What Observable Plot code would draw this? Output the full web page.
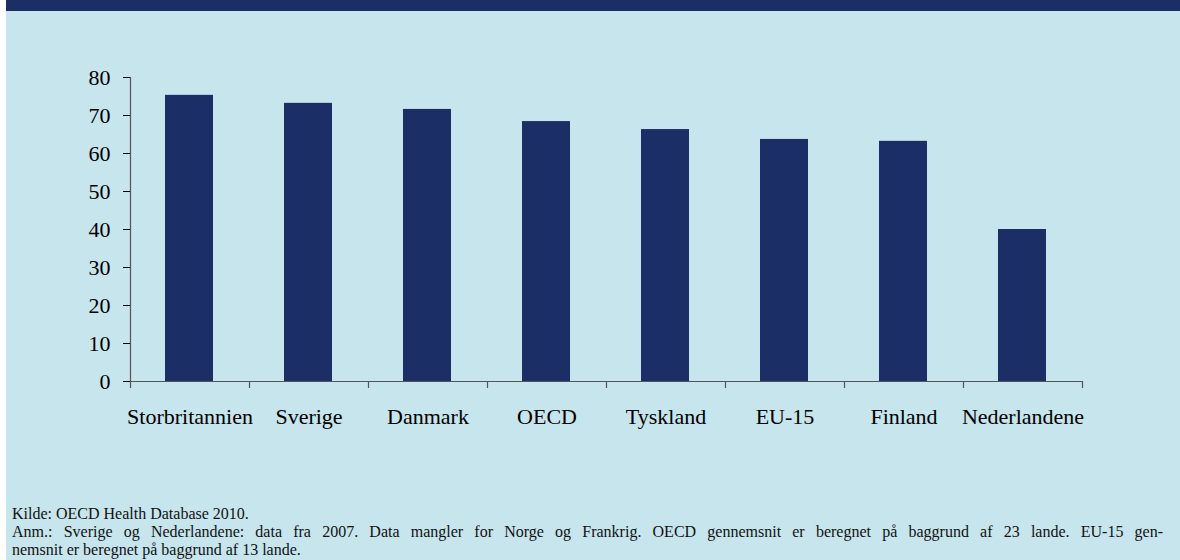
<!DOCTYPE html>
<html>
<head>
<meta charset="utf-8">
<script src="https://cdn.jsdelivr.net/npm/d3@7"></script>
<script src="https://cdn.jsdelivr.net/npm/@observablehq/plot@0.6"></script>
<style>
  html, body { margin: 0; padding: 0; background: #ffffff; }
  #panel { position: absolute; left: 6px; top: 0; width: 1174px; height: 560px; background: #c7e5ed; overflow: hidden;
           font-family: "Liberation Serif", "Times New Roman", serif; }
  #band { position: absolute; left: 0; top: 0; width: 100%; height: 11px; background: #1b2f66; }
  #chart { position: absolute; left: -6px; top: 0; }
  #notes { position: absolute; left: 6px; top: 505px; width: 1151px; font-size: 16px; line-height: 18px; color: #111; }
  #notes .j { text-align: justify; text-align-last: justify; white-space: nowrap; }
</style>
</head>
<body>
<div id="panel">
  <div id="band"></div>
  <div id="chart"></div>
  <div id="notes">
    <div>Kilde: OECD Health Database 2010.</div>
    <div class="j">Anm.: Sverige og Nederlandene: data fra 2007. Data mangler for Norge og Frankrig. OECD gennemsnit er beregnet på baggrund af 23 lande. EU-15 gen-</div>
    <div>nemsnit er beregnet på baggrund af 13 lande.</div>
  </div>
</div>
<script>
const categories = ["Storbritannien", "Sverige", "Danmark", "OECD", "Tyskland", "EU-15", "Finland", "Nederlandene"];
const values = [75.3, 73.2, 71.6, 68.4, 66.3, 63.7, 63.2, 40.0];
const yTicks = [0, 10, 20, 30, 40, 50, 60, 70, 80];

const data = categories.map((c, i) => ({country: c, value: values[i]}));

const W = 1180, H = 420, mL = 130, mR = 98, mT = 77, mB = 39;
const bw = (W - mL - mR) / categories.length;
const navy = "#1b2f66";
const axisColor = "#555555";
const last = categories[categories.length - 1];

const chart = Plot.plot({
  width: W,
  height: H,
  marginLeft: mL,
  marginRight: mR,
  marginTop: mT,
  marginBottom: mB,
  style: {background: "transparent", fontFamily: "'Liberation Serif', 'Times New Roman', serif", fontSize: "22px", color: "#000", overflow: "visible"},
  x: {domain: categories, padding: 0, label: null, tickSize: 0, tickPadding: 27},
  y: {domain: [0, 80], ticks: yTicks, label: null, tickSize: 7, tickPadding: 13, tickFormat: d => String(d)},
  marks: [
    Plot.barY(data, {x: "country", y: "value", fill: navy, insetLeft: 35, insetRight: 36}),
    Plot.ruleY([0], {stroke: axisColor, strokeWidth: 1.2}),
    Plot.ruleX([categories[0]], {x: d => d, dx: -bw / 2, y1: 0, y2: 80, stroke: axisColor, strokeWidth: 1.2}),
    Plot.ruleX(categories, {x: d => d, dx: -bw / 2, y1: 0, y2: 0, insetBottom: -7, stroke: axisColor, strokeWidth: 1.2}),
    Plot.ruleX([last], {x: d => d, dx: bw / 2, y1: 0, y2: 0, insetBottom: -7, stroke: axisColor, strokeWidth: 1.2})
  ]
});
document.getElementById("chart").appendChild(chart);
</script>
</body>
</html>
